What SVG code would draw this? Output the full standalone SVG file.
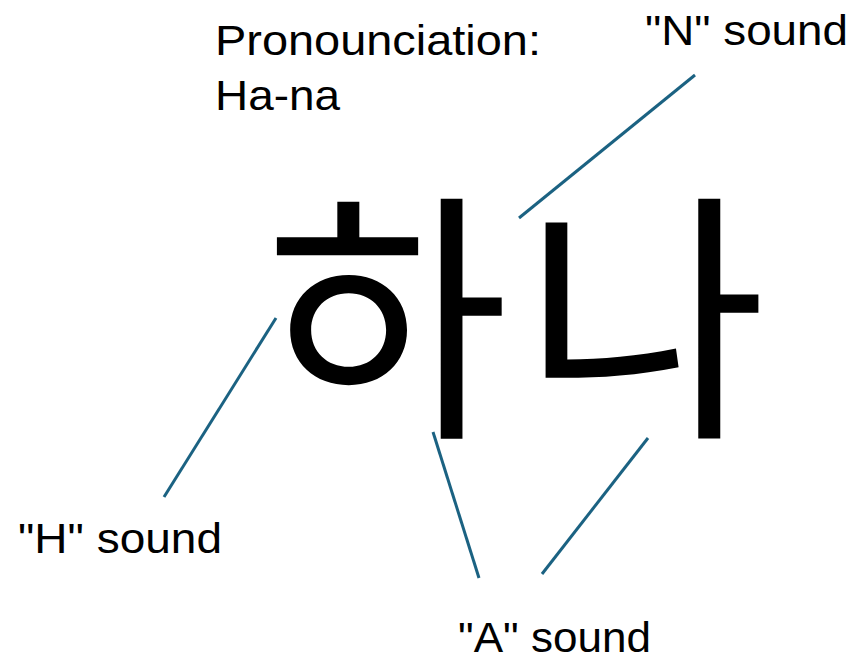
<svg xmlns="http://www.w3.org/2000/svg" width="859" height="661" viewBox="0 0 859 661">
<style>
.lbl{font-family:"Liberation Sans",Arial,sans-serif;font-size:42px;fill:#000}
.big{font-family:"Noto Sans CJK KR","Noto Sans CJK SC",sans-serif;font-size:265px;fill:#000}
.con{stroke:#1b6282;stroke-width:3;fill:none}
</style>
<rect width="859" height="661" fill="#fff"/>
<g id="title">
<text class="lbl" x="215" y="55" textLength="326" lengthAdjust="spacingAndGlyphs">Pronounciation:</text>
<text class="lbl" x="215" y="110" textLength="125" lengthAdjust="spacingAndGlyphs">Ha-na</text>
</g>
<g id="hangul"><text class="big" x="265" y="418">하<tspan dx="14">나</tspan></text></g>
<g id="n-label"><text class="lbl" x="645" y="45" textLength="203" lengthAdjust="spacingAndGlyphs">"N" sound</text></g>
<g id="h-label"><text class="lbl" x="18" y="553" textLength="204" lengthAdjust="spacingAndGlyphs">"H" sound</text></g>
<g id="a-label"><text class="lbl" x="458" y="652" textLength="193" lengthAdjust="spacingAndGlyphs">"A" sound</text></g>
<g id="connectors">
<line class="con" x1="695" y1="75" x2="519" y2="218"/>
<line class="con" x1="276" y1="318" x2="164" y2="497"/>
<line class="con" x1="433" y1="432" x2="479" y2="578"/>
<line class="con" x1="648" y1="438" x2="542" y2="574"/>
</g>
</svg>
